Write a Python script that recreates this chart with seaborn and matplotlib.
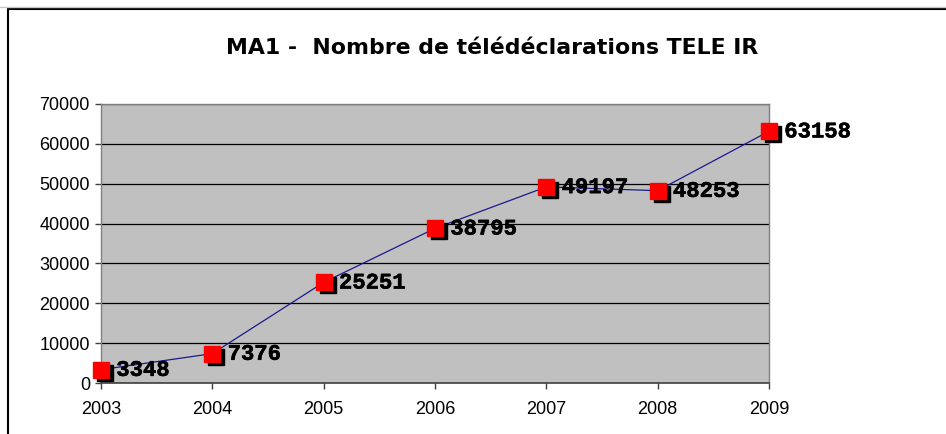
import matplotlib.pyplot as plt
import matplotlib.patheffects as pe
import matplotlib.transforms as mtransforms
from matplotlib.lines import Line2D
import seaborn as sns

years = [2003, 2004, 2005, 2006, 2007, 2008, 2009]
declarations = [3348, 7376, 25251, 38795, 49197, 48253, 63158]
y_ticks = [0, 10000, 20000, 30000, 40000, 50000, 60000, 70000]
title = "MA1 -  Nombre de télédéclarations TELE IR"

sns.set_style("white")
plt.rcParams["font.family"] = ["Liberation Sans", "DejaVu Sans"]
plt.rcParams["text.color"] = "black"
plt.rcParams["xtick.labelcolor"] = "black"
plt.rcParams["ytick.labelcolor"] = "black"

fig = plt.figure(figsize=(9.46, 4.34), dpi=100)
ax = fig.add_axes([0.1068, 0.1175, 0.7061, 0.6429])
ax.set_facecolor("#c0c0c0")

# chart frame (left and top edges visible in the screenshot)
fig.add_artist(Line2D([8 / 946, 8 / 946], [0, 1 - 9 / 434], color="black", lw=1.5))
fig.add_artist(Line2D([8 / 946, 1], [1 - 9 / 434, 1 - 9 / 434], color="black", lw=1.5))
fig.add_artist(Line2D([0, 1], [1 - 7 / 434, 1 - 7 / 434], color="#c8c8c8", lw=1))

sns.lineplot(x=years, y=declarations, ax=ax, color="#1a1a8c", lw=0.9, zorder=3)

shadow = ax.transData + mtransforms.ScaledTranslation(2.9 / 72, -2.2 / 72, fig.dpi_scale_trans)
ax.plot(years, declarations, ls="none", marker="s", ms=12, color="black",
        transform=shadow, clip_on=False, zorder=4)
ax.plot(years, declarations, ls="none", marker="s", ms=12, color="#ff0000",
        mec="#ff0000", clip_on=False, zorder=5)

for x, y in zip(years, declarations):
    ax.annotate(str(y), (x, y), xytext=(11, -0.5), textcoords="offset points",
                ha="left", va="center", fontsize=16, fontweight="bold",
                family="Liberation Mono", color="black", annotation_clip=False,
                zorder=6, path_effects=[pe.withStroke(linewidth=0.4, foreground="black")])

ax.set_xlim(2003, 2009)
ax.set_ylim(0, 70000)
ax.set_xticks(years)
ax.set_yticks(y_ticks)
ax.tick_params(axis="both", direction="out", length=4, width=1, color="#404040",
               labelsize=13, left=True, bottom=True)
ax.tick_params(axis="x", pad=9)
ax.tick_params(axis="y", pad=4)
ax.yaxis.grid(True, color="black", lw=0.9)
ax.set_axisbelow(True)

for side in ["top", "right", "left"]:
    ax.spines[side].set_color("#808080")
    ax.spines[side].set_linewidth(1)
ax.spines["bottom"].set_color("#404040")
ax.spines["bottom"].set_linewidth(1.2)

fig.text(0.520, 0.890, title, ha="center", va="center", fontsize=15.8,
         fontweight="bold", family=["DejaVu Sans"])

fig.savefig("out.png", dpi=100)
